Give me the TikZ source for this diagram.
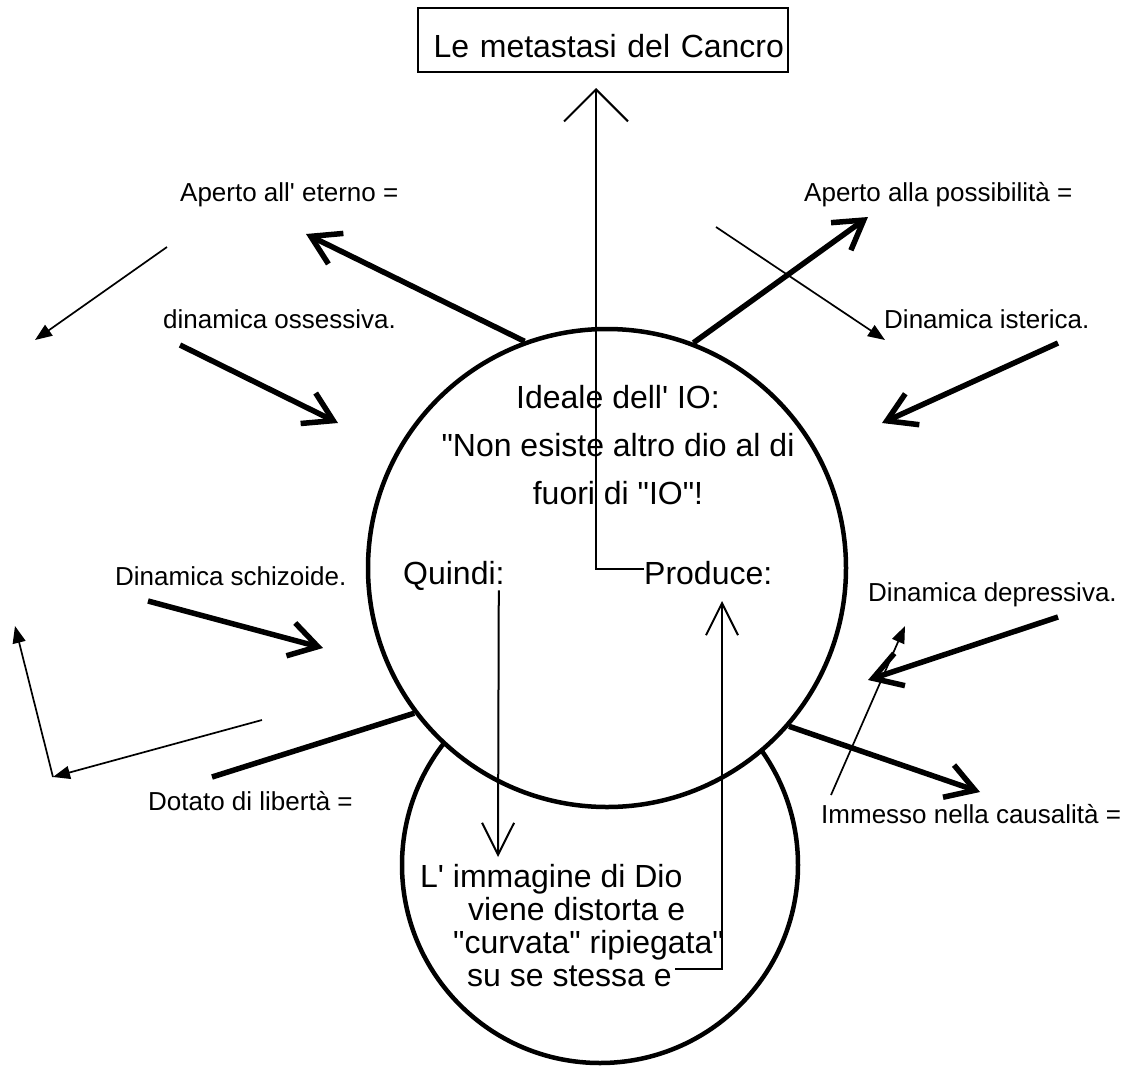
\documentclass[tikz,border=0pt]{standalone}
\usepackage{fontspec}
\setmainfont{Liberation Sans}[Ligatures=TeXOff]
\usetikzlibrary{arrows.meta}

\begin{document}
\begin{tikzpicture}[x=1pt,y=-1pt,
    lbl/.style={font=\fontsize{26}{31}\selectfont,inner sep=0pt,anchor=base west},
    big/.style={font=\fontsize{32}{48}\selectfont,inner sep=0pt},
    fatarrow/.style={line width=5.5pt,-{Straight Barb[length=28pt,width=34pt,sharp]}},
    fatline/.style={line width=5.5pt},
    slimarrow/.style={line width=1.7pt,-{Triangle[length=17pt,width=13pt]}},
    openarrow/.style={line width=2pt,-{Straight Barb[length=32pt,width=32pt,sharp]}}]
    \useasboundingbox (0,0) rectangle (1128,1066);

    \node[circle,draw,line width=4.5pt,minimum size=396pt,inner sep=0pt] (imago) at (600,865) {};
    \node[circle,draw,fill=white,line width=4.5pt,minimum size=478pt,inner sep=0pt] (ideal) at (607,568) {};

    \node[draw,line width=2pt,minimum width=370pt,minimum height=64pt,inner xsep=4pt,
      text width=362pt,align=right,text height=34pt,text depth=0pt,
      font=\fontsize{32}{38}\selectfont] (title) at (603,40) {Le metastasi del Cancro};

    \node[lbl] (eterno) at (180,201) {Aperto all' eterno =};
    \node[lbl] (possib) at (804,201) {Aperto alla possibilità =};
    \node[lbl] (ossess) at (163,328) {dinamica ossessiva.};
    \node[lbl] (isteric) at (884,328) {Dinamica isterica.};
    \node[lbl] (schiz) at (115,585) {Dinamica schizoide.};
    \node[lbl] (depress) at (868,601) {Dinamica depressiva.};
    \node[lbl] (liberta) at (148,810) {Dotato di libertà =};
    \node[lbl] (causal) at (821,823) {Immesso nella causalità =};

    \node[big,align=center,anchor=north] (idealtext) at (618,385)
      {Ideale dell' IO:\\"Non esiste altro dio al di\\fuori di "IO"!};
    \node[big,anchor=base west] (quindi) at (403,584) {Quindi:};
    \node[big,anchor=base west] (produce) at (644,584) {Produce:};
    \node[font=\fontsize{32}{33}\selectfont,inner sep=0pt,align=left,anchor=north west] (imagotext) at (420,864)
      {L' immagine di Dio\\\hspace*{48pt}viene distorta e\\\hspace*{33pt}"curvata" ripiegata"\\\hspace*{47pt}su se stessa e};

    \coordinate (eternotip) at (306,234);
    \coordinate (possibtip) at (868,217);
    \coordinate (ossessfrom) at (180,345);
    \coordinate (ossesstip) at (338,423);
    \coordinate (istericfrom) at (1058,343);
    \coordinate (isterictip) at (882,423);
    \coordinate (schizfrom) at (148,601);
    \coordinate (schiztip) at (323,648);
    \coordinate (depressfrom) at (1058,617);
    \coordinate (depresstip) at (868,680);
    \coordinate (causaltip) at (980,792);
    \coordinate (libertafrom) at (212,777);

    \draw[fatarrow] (ideal.110) -- (eternotip);
    \draw[fatarrow] (ideal.69) -- (possibtip);
    \draw[fatarrow] (ossessfrom) -- (ossesstip);
    \draw[fatarrow] (istericfrom) -- (isterictip);
    \draw[fatarrow] (schizfrom) -- (schiztip);
    \draw[fatarrow] (depressfrom) -- (depresstip);
    \draw[fatarrow] (ideal.-41.5) -- (causaltip);
    \draw[fatline] (libertafrom) -- (ideal.217);

    \coordinate (leftfrom) at (167,247);
    \coordinate (lefttip) at (35,340);
    \coordinate (rightfrom) at (716,227);
    \coordinate (righttip) at (885,340);
    \coordinate (lowfrom) at (262,720);
    \coordinate (lowcorner) at (53,777);
    \coordinate (lowtip) at (15,626);
    \coordinate (causalfrom) at (831,795);
    \coordinate (causalup) at (905,626);

    \draw[slimarrow] (leftfrom) -- (lefttip);
    \draw[slimarrow] (rightfrom) -- (righttip);
    \draw[slimarrow] (lowfrom) -- (lowcorner);
    \draw[slimarrow] (lowcorner) -- (lowtip);
    \draw[slimarrow] (causalfrom) -- (causalup);

    \coordinate (titletip) at (596,88);
    \coordinate (quinditip) at (498,857);
    \coordinate (imagoend) at (675,969);
    \coordinate (producetip) at (722,601);

    \draw[line width=2pt,-{Straight Barb[length=32pt,width=64pt,sharp]}] ([yshift=4pt]produce.west) -| (titletip);
    \draw[openarrow] ([xshift=-6pt]quindi.south east) -- (quinditip);
    \draw[openarrow] (imagoend) -| (producetip);

\end{tikzpicture}
\end{document}
